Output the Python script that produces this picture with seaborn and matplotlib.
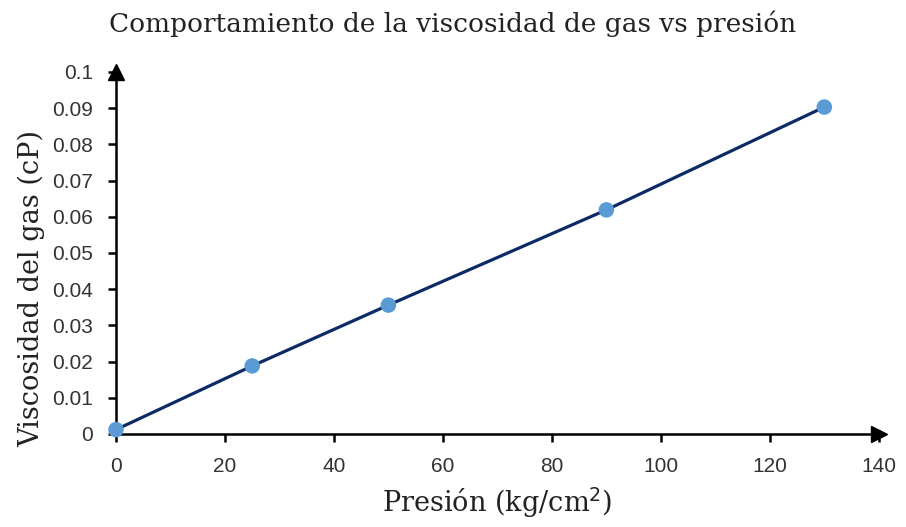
import matplotlib
matplotlib.use("Agg")
import matplotlib.pyplot as plt
import seaborn as sns
import pandas as pd

# Gas viscosity measured at several pressures
presion = [0, 25, 50, 90, 130]
viscosidad = [0.0012, 0.0188, 0.0356, 0.0619, 0.0903]
x_ticks = [0, 20, 40, 60, 80, 100, 120, 140]
y_ticks = [0, 0.01, 0.02, 0.03, 0.04, 0.05, 0.06, 0.07, 0.08, 0.09, 0.1]
y_tick_labels = ["0", "0.01", "0.02", "0.03", "0.04", "0.05", "0.06", "0.07", "0.08", "0.09", "0.1"]

df = pd.DataFrame({"presion": presion, "viscosidad": viscosidad})

sns.set_theme(style="white")
plt.rcParams["font.family"] = ["Liberation Sans", "DejaVu Sans"]

fig = plt.figure(figsize=(9.06, 5.27), dpi=100)
ax = fig.add_axes([0.128, 0.1765, 0.842, 0.687])

sns.lineplot(data=df, x="presion", y="viscosidad", ax=ax, color="#0B2A66",
             linewidth=2.3, zorder=2)
sns.scatterplot(data=df, x="presion", y="viscosidad", ax=ax, color="#5B9BD5",
                s=125, edgecolor="none", zorder=3, clip_on=False)

ax.set_xlim(0, 140)
ax.set_ylim(0, 0.1)
ax.set_xticks(x_ticks)
ax.set_yticks(y_ticks)
ax.set_yticklabels(y_tick_labels)
ax.tick_params(axis="both", direction="out", length=6, width=1.8, color="black",
               labelsize=15, labelcolor="#333333", pad=10.5, bottom=True, left=True)

for side in ("top", "right"):
    ax.spines[side].set_visible(False)
for side in ("left", "bottom"):
    ax.spines[side].set_color("black")
    ax.spines[side].set_linewidth(1.8)

# arrowheads at the ends of both axes
ax.plot(1, 0, marker=">", color="black", markersize=11, transform=ax.transAxes,
        clip_on=False, zorder=5)
ax.plot(0, 1, marker="^", color="black", markersize=11, transform=ax.transAxes,
        clip_on=False, zorder=5)

serif = ["DejaVu Serif"]
ax.set_xlabel("Presión (kg/cm$^2$)", fontsize=19.5, family=serif, color="#222222",
              labelpad=7)
ax.set_ylabel("Viscosidad del gas (cP)", fontsize=19.5, family=serif, color="#222222")
ax.yaxis.set_label_coords(-0.093, 0.403)
fig.text(0.5, 0.955, "Comportamiento de la viscosidad de gas vs presión",
         ha="center", va="center", fontsize=19, family=serif, color="#222222")

fig.savefig("out.png", dpi=100)
